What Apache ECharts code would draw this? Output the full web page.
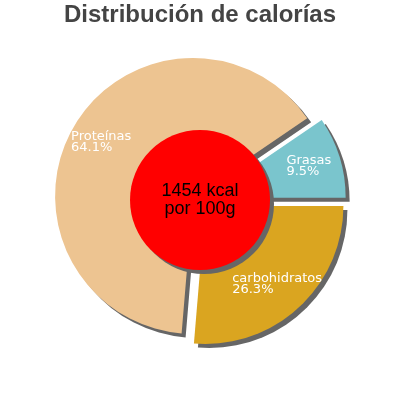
<!DOCTYPE html>
<html>
<head>
<meta charset="utf-8">
<script src="https://cdn.jsdelivr.net/npm/echarts@6/dist/echarts.min.js"></script>
<style>html,body{margin:0;padding:0;background:#fff}#c{width:400px;height:400px}</style>
</head>
<body>
<div id="c"></div>
<script>
// Data (clockwise from 3 o'clock)
const categories = ['carbohidratos', 'Proteínas', 'Grasas'];
const percents = [26.3, 64.1, 9.5];
const colors = ['#DAA520', '#EDC491', '#7AC5CD'];
const titleText = 'Distribución de calorías';
const centerLines = ['1454 kcal', 'por 100g'];

const labelFamily = '"DejaVu Sans", Verdana, sans-serif';
const labelSize = 13;
const cv = document.createElement('canvas').getContext('2d');
cv.font = labelSize + 'px ' + labelFamily;
function blockWidth(lines) {
  return Math.ceil(Math.max.apply(null, lines.map(l => cv.measureText(l).width)));
}

const shadow = { shadowColor: '#666', shadowBlur: 0, shadowOffsetX: 4, shadowOffsetY: 4 };

const sliceData = categories.map((n, i) => ({
  name: n, value: percents[i], selected: true,
  itemStyle: Object.assign({ color: colors[i] }, shadow)
}));

const labelData = categories.map((n, i) => {
  const lines = [n, percents[i] + '%'];
  return {
    name: n, value: percents[i], selected: true,
    label: { rich: { a: { width: blockWidth(lines), align: 'left', color: '#fff', fontSize: labelSize, lineHeight: 11, fontFamily: labelFamily } } }
  };
});

const chart = echarts.init(document.getElementById('c'), null, { renderer: 'canvas' });
chart.setOption({
  animation: false,
  title: {
    text: titleText, left: 'center', top: 3, padding: 0,
    textStyle: { fontSize: 24, fontWeight: 'bold', color: '#444', fontFamily: '"Liberation Sans", Arial, sans-serif' }
  },
  series: [
    {
      type: 'pie', center: [200, 200], radius: [0, 138], startAngle: 0, clockwise: true,
      selectedMode: 'multiple', selectedOffset: 8, silent: true, z: 1,
      label: { show: false }, labelLine: { show: false },
      emphasis: { disabled: true },
      data: sliceData
    },
    {
      type: 'pie', center: [200, 200], radius: [0, 70], silent: true, z: 3,
      itemStyle: Object.assign({ color: '#FF0000' }, shadow),
      label: {
        show: true, position: 'center', color: '#000', fontSize: 18, lineHeight: 18,
        fontFamily: '"Liberation Sans", Arial, sans-serif',
        formatter: () => centerLines.join('\n')
      },
      labelLine: { show: false },
      emphasis: { disabled: true },
      data: [{ name: 'kcal', value: 1 }]
    },
    {
      type: 'pie', center: [200, 200], radius: [70, 136], startAngle: 0, clockwise: true,
      selectedMode: 'multiple', selectedOffset: 8, silent: true, z: 4,
      itemStyle: { color: 'rgba(0,0,0,0)' },
      label: {
        show: true, position: 'inside', align: 'center',
        formatter: p => '{a|' + p.name + '}\n{a|' + p.value + '%}'
      },
      labelLine: { show: false },
      emphasis: { disabled: true },
      data: labelData
    }
  ]
});
</script>
</body>
</html>
